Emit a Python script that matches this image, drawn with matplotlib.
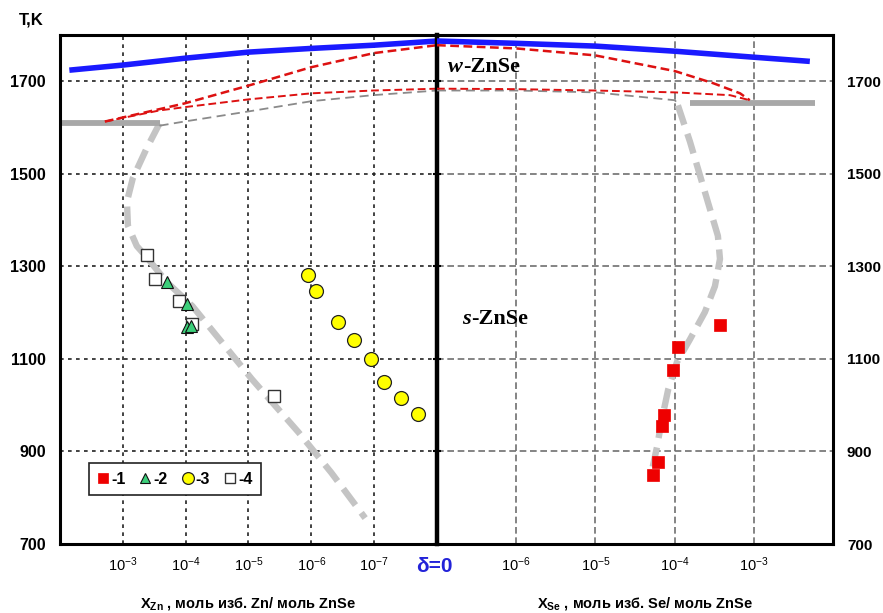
"""
Фазовая диаграмма ZnSe: область гомогенности (две половины с логарифмической шкалой)
"""
import matplotlib
matplotlib.use("Agg")
import matplotlib.pyplot as plt

plt.rcParams['font.family'] = ['Liberation Sans', 'DejaVu Sans']
plt.rcParams['mathtext.fontset'] = 'custom'
plt.rcParams['mathtext.rm'] = 'Liberation Sans'
plt.rcParams['mathtext.it'] = 'Liberation Sans:italic'
plt.rcParams['mathtext.bf'] = 'Liberation Sans:bold'

# ---- данные: левая половина (избыток Zn), правая (избыток Se) ----
T_ticks = [700, 900, 1100, 1300, 1500, 1700]
zn_ticks = [1e-3, 1e-4, 1e-5, 1e-6, 1e-7]
se_ticks = [1e-6, 1e-5, 1e-4, 1e-3]
zn_tick_labels = ['-3', '-4', '-5', '-6', '-7']
se_tick_labels = ['-6', '-5', '-4', '-3']

# линия плавления (синяя)
blue_zn_x = [7.1e-3, 1e-3, 1e-4, 1e-5, 1e-6, 1e-7, 1e-8]
blue_zn_T = [1724, 1735, 1750, 1763, 1771, 1778, 1787]
blue_se_x = [1e-7, 1e-6, 1e-5, 1e-4, 1e-3, 5.1e-3]
blue_se_T = [1787, 1782, 1776, 1765, 1752, 1743]

# красные пунктирные кривые
red_up_zn_x = [1.93e-3, 1.05e-4, 9.8e-6, 1.03e-6, 1e-7, 1e-8]
red_up_zn_T = [1613, 1652, 1691, 1730, 1761, 1778]
red_lo_zn_x = [1.93e-3, 2.6e-4, 1.05e-4, 9.8e-6, 9.9e-7, 1.04e-7, 1e-8]
red_lo_zn_T = [1613, 1637, 1644, 1661, 1674, 1680, 1684]
red_up_se_x = [1e-7, 1e-6, 9.9e-6, 1.01e-4, 3.05e-4, 6.7e-4, 8.9e-4]
red_up_se_T = [1778, 1771, 1756, 1722, 1696, 1674, 1659]
red_lo_se_x = [1e-7, 1e-6, 9.9e-6, 1.01e-4, 5.0e-4, 8.9e-4]
red_lo_se_T = [1684, 1683, 1680, 1676, 1670, 1659]

# тонкие серые пунктирные
grey_zn_x = [2.6e-4, 1.05e-4, 9.8e-6, 9.9e-7, 1.04e-7, 1e-8]
grey_zn_T = [1604, 1613, 1635, 1657, 1670, 1680]
grey_se_x = [1e-7, 1e-6, 9.9e-6, 1.01e-4, 1.1e-4]
grey_se_T = [1680, 1680, 1676, 1659, 1650]

# горизонтальные серые (эвтектики)
eut_zn_x = [1e-2, 2.6e-4]
eut_zn_T = [1609, 1609]
eut_se_x = [1.56e-4, 5.9e-3]
eut_se_T = [1654, 1654]

# толстые серые штриховые (солидус)
sol_zn_x = [2.6e-4, 4.18e-4, 6.95e-4, 8.6e-4, 8.3e-4, 6.0e-4, 4.18e-4, 2.0e-4,
            7.8e-5, 8.8e-6, 1.59e-6, 4.8e-7, 1.39e-7]
sol_zn_T = [1609, 1555, 1490, 1440, 1388, 1344, 1320, 1266, 1214, 1056, 941, 854, 756]
sol_se_x = [1.10e-4, 1.56e-4, 2.41e-4, 3.52e-4, 3.74e-4, 3.23e-4, 2.41e-4, 1.56e-4,
            1.07e-4, 8.3e-5, 6.9e-5, 6.0e-5, 5.3e-5]
sol_se_T = [1648, 1570, 1461, 1366, 1316, 1257, 1201, 1142, 1093, 1034, 969, 910, 867]

# экспериментальные точки
s1_x = [3.74e-4, 1.10e-4, 9.5e-5, 7.3e-5, 6.9e-5, 6.2e-5, 5.3e-5]
s1_T = [1173, 1125, 1077, 978, 956, 878, 850]
s2_x = [2.01e-4, 9.4e-5, 9.4e-5, 8.1e-5]
s2_T = [1266, 1218, 1168, 1171]
s3_x = [1.15e-6, 8.3e-7, 3.7e-7, 2.07e-7, 1.11e-7, 6.9e-8, 3.7e-8, 2.0e-8]
s3_T = [1281, 1247, 1179, 1140, 1099, 1051, 1015, 982]
s4_x = [4.18e-4, 3.12e-4, 1.26e-4, 7.8e-5, 3.95e-6]
s4_T = [1325, 1273, 1225, 1175, 1019]

W, H = 883, 613
fig = plt.figure(figsize=(W / 100, H / 100), dpi=100)
ax1 = fig.add_axes([60 / W, 69 / H, 377 / W, 509 / H])
ax2 = fig.add_axes([437 / W, 69 / H, 396 / W, 509 / H], sharey=ax1)
ax2.patch.set_visible(False)   # чтобы не закрывать центральную линию

for ax in (ax1, ax2):
    ax.set_xscale('log')
    ax.minorticks_off()
    ax.set_ylim(700, 1800)
ax1.set_xlim(1e-2, 1e-8)
ax2.set_xlim(1e-7, 1e-2)

# сетка
for ax, col, ls in ((ax1, '#222222', (0, (2.2, 2.6))), (ax2, '#707070', (0, (4, 2.2)))):
    for t in T_ticks[1:]:
        ax.axhline(t, color=col, lw=1.2, ls=ls, zorder=1)
for x in zn_ticks:
    ax1.axvline(x, color='#222222', lw=1.2, ls=(0, (2.2, 2.6)), zorder=1)
for x in se_ticks:
    ax2.axvline(x, color='#707070', lw=1.2, ls=(0, (4, 2.2)), zorder=1)

red = '#dd1111'
sol_kw = dict(color='#c4c4c4', lw=4.6, dashes=(3.2, 1.5), solid_capstyle='butt', zorder=2)
ax1.plot(sol_zn_x, sol_zn_T, **sol_kw)
ax2.plot(sol_se_x, sol_se_T, **sol_kw)
ax1.plot(eut_zn_x, eut_zn_T, color='#a8a8a8', lw=4.2, solid_capstyle='butt', zorder=2)
ax2.plot(eut_se_x, eut_se_T, color='#a8a8a8', lw=4.2, solid_capstyle='butt', zorder=2)
ax1.plot(grey_zn_x, grey_zn_T, color='#8a8a8a', lw=1.3, dashes=(5, 3), zorder=3)
ax2.plot(grey_se_x, grey_se_T, color='#8a8a8a', lw=1.3, dashes=(5, 3), zorder=3)
ax1.plot(red_lo_zn_x, red_lo_zn_T, color=red, lw=1.4, dashes=(4, 2), zorder=3)
ax2.plot(red_lo_se_x, red_lo_se_T, color=red, lw=1.4, dashes=(4, 2), zorder=3)
ax1.plot(red_up_zn_x, red_up_zn_T, color=red, lw=1.8, dashes=(3.5, 1.8), zorder=3)
ax2.plot(red_up_se_x, red_up_se_T, color=red, lw=1.8, dashes=(3.5, 1.8), zorder=3)
ax1.plot(blue_zn_x, blue_zn_T, color='#1a1aff', lw=4, solid_capstyle='butt', zorder=4)
ax2.plot(blue_se_x, blue_se_T, color='#1a1aff', lw=4, solid_capstyle='butt', zorder=4)

h4, = ax1.plot(s4_x, s4_T, 's', ms=9, mfc='white', mec='#333333', mew=1, ls='none', zorder=5)
h2, = ax1.plot(s2_x, s2_T, '^', ms=9, mfc='#3ccf7a', mec='#111111', mew=0.8, ls='none', zorder=6)
h3, = ax1.plot(s3_x, s3_T, 'o', ms=10, mfc='#ffff00', mec='#222222', mew=0.9, ls='none', zorder=5)
h1, = ax2.plot(s1_x, s1_T, 's', ms=8, mfc='#ee0000', mec='#ee0000', mew=0.5, ls='none', zorder=5)

# оси и рамка
for name, sp in ax1.spines.items():
    sp.set_linewidth(2.2)
ax1.spines['right'].set_linewidth(3.2)
ax1.spines['right'].set_zorder(8)
for name, sp in ax2.spines.items():
    sp.set_linewidth(2.2)
ax2.spines['left'].set_visible(False)

ax1.set_yticks(T_ticks)
ax1.set_yticklabels([str(t) for t in T_ticks], fontweight='bold', fontsize=11.5)
ax1.tick_params(axis='y', length=0, pad=10)
ax2.tick_params(axis='y', left=True, right=False, labelleft=False, labelright=True,
                direction='inout', length=6, width=1.5, pad=7)
for lab in ax2.get_yticklabels():
    lab.set_fontweight('bold')
    lab.set_fontsize(11)

ax1.set_xticks(zn_ticks)
ax1.set_xticklabels([r'$\mathregular{10^{%s}}$' % s for s in zn_tick_labels], fontsize=10.5)
ax2.set_xticks(se_ticks)
ax2.set_xticklabels([r'$\mathregular{10^{%s}}$' % s for s in se_tick_labels], fontsize=10.5)
for ax in (ax1, ax2):
    ax.tick_params(axis='x', length=0, pad=8)

# подписи
fig.text(31 / W, 1 - 20 / H, 'T,K', fontweight='bold', fontsize=12, ha='center', va='center')
fig.text(434 / W, 1 - 566 / H, 'δ=0', color='#2323d8', fontweight='bold', fontsize=15,
         ha='center', va='center')
fig.text(248 / W, 1 - 603 / H, r'X$_{\mathregular{Zn}}$ , моль изб. Zn/ моль ZnSe',
         fontweight='bold', fontsize=10.5, ha='center', va='center')
fig.text(645 / W, 1 - 603 / H, r'X$_{\mathregular{Se}}$ , моль изб. Se/ моль ZnSe',
         fontweight='bold', fontsize=10.5, ha='center', va='center')

serif = 'Liberation Serif'
for x0, y0, letter in ((448, 72, 'w'), (462, 324, 's')):
    t = fig.text(x0 / W, 1 - y0 / H, letter, family=serif, style='italic',
                 fontweight='bold', fontsize=16, ha='left', va='baseline')
    ax2.annotate('-ZnSe', xy=(1, 0), xycoords=t, family=serif, fontweight='bold',
                 fontsize=16, ha='left', va='bottom')

leg = ax1.legend(handles=[h1, h2, h3, h4], labels=['-1', '-2', '-3', '-4'], ncol=4,
                 loc='lower left', bbox_to_anchor=(0.055, 0.08), fancybox=False,
                 edgecolor='#222222', framealpha=1, handlelength=0.7, handletextpad=0.15,
                 columnspacing=0.9, borderpad=0.55, markerscale=0.85,
                 prop={'weight': 'bold', 'size': 11.5})
leg.get_frame().set_linewidth(1.2)
leg.set_zorder(10)

fig.savefig('out.png', dpi=100)
